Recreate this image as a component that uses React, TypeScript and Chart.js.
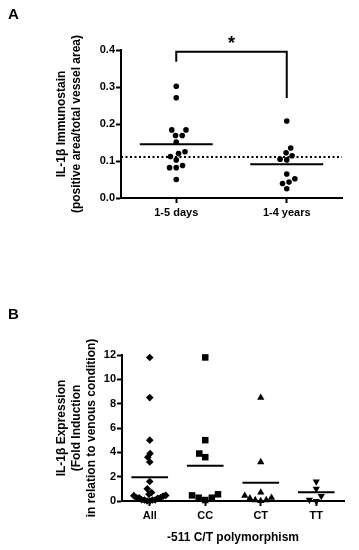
import React, { useEffect, useRef } from "react";
import { Chart, registerables } from "chart.js";

Chart.register(...registerables);

// ---------- Panel A data ----------
const categoriesA = ["1-5 days", "1-4 years"];
const days15 = [0.302, 0.271, 0.184, 0.184, 0.169, 0.169, 0.151, 0.125, 0.12, 0.112, 0.103, 0.088, 0.082, 0.082, 0.05];
const years14 = [0.208, 0.135, 0.122, 0.114, 0.105, 0.103, 0.065, 0.052, 0.043, 0.039, 0.025];
const meansA = [0.145, 0.091];
const referenceLevelA = 0.111;
const bracketA = { left: 0.368, top: 0.395, right: 0.27 };
const yTicksA = { min: 0, max: 0.4, step: 0.1 };

// ---------- Panel B data ----------
const categoriesB = ["All", "CC", "CT", "TT"];
const cc = [11.8, 5.0, 3.9, 3.6, 0.55, 0.46, 0.27, 0.27, 0.08];
const ct = [8.5, 3.2, 0.7, 0.44, 0.27, 0.22, 0.08, 0.08, 0.0];
const tt = [1.6, 1.0, 0.4, 0.1, 0.0];
const allGroup = [...cc, ...ct, ...tt];
const meansB = [1.95, 2.9, 1.5, 0.71];
const yTicksB = { min: 0, max: 12, step: 2 };

const FONT = "'Liberation Sans', Arial, sans-serif";

// beeswarm layout (pixel-space), returns x in category units
function swarm(values: number[], center: number, pxPerX: number, pxPerY: number, diam: number, maxSpread: number) {
  const idx = values.map((_, i) => i).sort((a, b) => values[a] - values[b]);
  const placed: { px: number; py: number }[] = [];
  const offs: number[] = new Array(values.length).fill(0);
  for (const i of idx) {
    const py = values[i] * pxPerY;
    const cands = [0];
    for (const p of placed) {
      const dy = Math.abs(p.py - py);
      if (dy < diam) {
        const dx = Math.sqrt(diam * diam - dy * dy);
        cands.push(p.px - dx, p.px + dx);
      }
    }
    cands.sort((a, b) => Math.abs(a) - Math.abs(b) || a - b);
    let chosen = 0;
    for (const c of cands) {
      if (placed.every((p) => (p.px - c) ** 2 + (p.py - py) ** 2 >= diam * diam - 0.01)) {
        chosen = c;
        break;
      }
    }
    placed.push({ px: chosen, py });
    offs[i] = chosen;
  }
  const m = Math.max(...offs.map((o) => Math.abs(o)), 0.0001);
  const k = m > maxSpread ? maxSpread / m : 1;
  return values.map((v, i) => ({ x: center + (offs[i] * k) / pxPerX, y: v }));
}

function meanLine(center: number, value: number, half: number) {
  return {
    type: "line" as const,
    data: [
      { x: center - half, y: value },
      { x: center + half, y: value },
    ],
    borderColor: "#000",
    borderWidth: 2,
    pointRadius: 0,
    clip: false as const,
  };
}

function tickFont() {
  return { family: FONT, weight: "bold" as const, size: 11 };
}

function panelLabel(text: string, x: number, y: number) {
  return {
    id: "panelLabel" + text,
    afterDraw(chart: any) {
      const ctx = chart.ctx;
      ctx.save();
      ctx.font = `bold 15px ${FONT}`;
      ctx.fillStyle = "#000";
      ctx.textBaseline = "alphabetic";
      ctx.fillText(text, x, y);
      ctx.restore();
    },
  };
}

export default function App() {
  const refA = useRef<HTMLCanvasElement | null>(null);
  const refB = useRef<HTMLCanvasElement | null>(null);

  useEffect(() => {
    if (!refA.current || !refB.current) return;

    // ---- Chart A ----
    const plotWA = 221, plotHA = 148;
    const pxXA = plotWA / 2, pxYA = plotHA / (yTicksA.max - yTicksA.min);
    const groupsA = [days15, years14];
    const dotsA = groupsA.map((g, i) => ({
      type: "scatter" as const,
      data: swarm(g, i + 1, pxXA, pxYA, 6.7, 30),
      backgroundColor: "#000",
      borderColor: "#000",
      borderWidth: 0,
      pointRadius: 2.8,
      pointStyle: "circle",
      clip: false as const,
    }));
    const meanDsA = meansA.map((m, i) => meanLine(i + 1, m, 0.33));
    const refLine = {
      type: "line" as const,
      data: [
        { x: 0.5, y: referenceLevelA },
        { x: 2.5, y: referenceLevelA },
      ],
      borderColor: "#000",
      borderWidth: 2,
      borderDash: [2, 2.5],
      pointRadius: 0,
    };
    const bracket = {
      type: "line" as const,
      data: [
        { x: 1, y: bracketA.left },
        { x: 1, y: bracketA.top },
        { x: 2, y: bracketA.top },
        { x: 2, y: bracketA.right },
      ],
      borderColor: "#000",
      borderWidth: 2,
      pointRadius: 0,
      tension: 0,
      clip: false as const,
    };
    const starPlugin = {
      id: "star",
      afterDatasetsDraw(chart: any) {
        const { ctx, scales } = chart;
        const x = scales.x.getPixelForValue(1.5);
        const y = scales.y.getPixelForValue(bracketA.top) - 3;
        ctx.save();
        ctx.font = `bold 18px ${FONT}`;
        ctx.fillStyle = "#000";
        ctx.textAlign = "center";
        ctx.textBaseline = "alphabetic";
        ctx.fillText("*", x, y);
        ctx.restore();
      },
    };

    const chartA = new Chart(refA.current, {
      type: "scatter",
      data: { datasets: [...dotsA, ...meanDsA, refLine, bracket] as any },
      options: {
        animation: false,
        responsive: false,
        maintainAspectRatio: false,
        events: [],
        layout: { padding: { top: 50, right: 17, left: 0, bottom: 0 } },
        plugins: { legend: { display: false }, tooltip: { enabled: false } },
        scales: {
          x: {
            type: "linear",
            min: 0.5,
            max: 2.5,
            afterBuildTicks: (s: any) => {
              s.ticks = categoriesA.map((_, i) => ({ value: i + 1 }));
            },
            afterFit: (s: any) => {
              s.height = 52;
            },
            ticks: {
              callback: (v: any) => categoriesA[Math.round(v) - 1] ?? "",
              font: tickFont(),
              color: "#000",
              padding: 3,
              maxRotation: 0,
              autoSkip: false,
            },
            grid: { drawOnChartArea: false, drawTicks: true, tickLength: 5, tickColor: "#000", tickWidth: 2 },
            border: { color: "#000", width: 2 },
          },
          y: {
            type: "linear",
            min: yTicksA.min,
            max: yTicksA.max,
            afterFit: (s: any) => {
              s.width = 121;
            },
            ticks: {
              stepSize: yTicksA.step,
              callback: (v: any) => Number(v).toFixed(1),
              font: tickFont(),
              color: "#000",
              padding: 1,
            },
            grid: { drawOnChartArea: false, drawTicks: true, tickLength: 5, tickColor: "#000", tickWidth: 2 },
            border: { color: "#000", width: 2 },
            title: {
              display: true,
              text: ["IL-1β Immunostain", "(positive area/total vessel area)"],
              font: { family: FONT, weight: "bold", size: 12, lineHeight: 1.25 },
              color: "#000",
              padding: { top: 54.5, bottom: 0 },
            },
          },
        },
      },
      plugins: [starPlugin, panelLabel("A", 8, 19)],
    });

    // ---- Chart B ----
    const plotWB = 222, plotHB = 146;
    const pxXB = plotWB / 4, pxYB = plotHB / (yTicksB.max - yTicksB.min);
    const groupsB = [allGroup, cc, ct, tt];
    const styles = [
      { pointStyle: "rectRot", pointRadius: 3.8, rotation: 0 },
      { pointStyle: "rect", pointRadius: 4.6, rotation: 0 },
      { pointStyle: "triangle", pointRadius: 4.2, rotation: 0 },
      { pointStyle: "triangle", pointRadius: 4.2, rotation: 180 },
    ];
    const dotsB = groupsB.map((g, i) => ({
      type: "scatter" as const,
      data: swarm(g, i + 1, pxXB, pxYB, 7, 16),
      backgroundColor: "#000",
      borderColor: "#000",
      borderWidth: 0,
      pointRadius: styles[i].pointRadius,
      pointStyle: styles[i].pointStyle,
      pointRotation: styles[i].rotation,
      clip: false as const,
    }));
    const meanDsB = meansB.map((m, i) => meanLine(i + 1, m, 0.33));

    const chartB = new Chart(refB.current, {
      type: "scatter",
      data: { datasets: [...dotsB, ...meanDsB] as any },
      options: {
        animation: false,
        responsive: false,
        maintainAspectRatio: false,
        events: [],
        layout: { padding: { top: 75, right: 15, left: 0, bottom: 0 } },
        plugins: { legend: { display: false }, tooltip: { enabled: false } },
        scales: {
          x: {
            type: "linear",
            min: 0.5,
            max: 4.5,
            afterBuildTicks: (s: any) => {
              s.ticks = categoriesB.map((_, i) => ({ value: i + 1 }));
            },
            afterFit: (s: any) => {
              s.height = 49;
            },
            ticks: {
              callback: (v: any) => categoriesB[Math.round(v) - 1] ?? "",
              font: tickFont(),
              color: "#000",
              padding: 3,
              maxRotation: 0,
              autoSkip: false,
            },
            grid: { drawOnChartArea: false, drawTicks: true, tickLength: 5, tickColor: "#000", tickWidth: 2 },
            border: { color: "#000", width: 2 },
            title: {
              display: true,
              text: "-511 C/T polymorphism",
              font: { family: FONT, weight: "bold", size: 12, lineHeight: 1.25 },
              color: "#000",
              padding: { top: 0, bottom: 5 },
            },
          },
          y: {
            type: "linear",
            min: yTicksB.min,
            max: yTicksB.max,
            afterFit: (s: any) => {
              s.width = 122;
            },
            ticks: {
              stepSize: yTicksB.step,
              font: tickFont(),
              color: "#000",
              padding: 1,
            },
            grid: { drawOnChartArea: false, drawTicks: true, tickLength: 5, tickColor: "#000", tickWidth: 2 },
            border: { color: "#000", width: 2 },
            title: {
              display: true,
              text: ["IL-1β Expression", "(Fold Induction", "in relation to venous condition)"],
              font: { family: FONT, weight: "bold", size: 12, lineHeight: 1.25 },
              color: "#000",
              padding: { top: 54, bottom: 0 },
            },
          },
        },
      },
      plugins: [panelLabel("B", 8, 39)],
    });

    return () => {
      chartA.destroy();
      chartB.destroy();
    };
  }, []);

  return (
    <div style={{ position: "absolute", left: 0, top: 0, width: 359, height: 550, background: "#fff" }}>
      <canvas ref={refA} width={359} height={250} style={{ position: "absolute", left: 0, top: 0, width: 359, height: 250 }} />
      <canvas ref={refB} width={359} height={270} style={{ position: "absolute", left: 0, top: 280, width: 359, height: 270 }} />
    </div>
  );
}
